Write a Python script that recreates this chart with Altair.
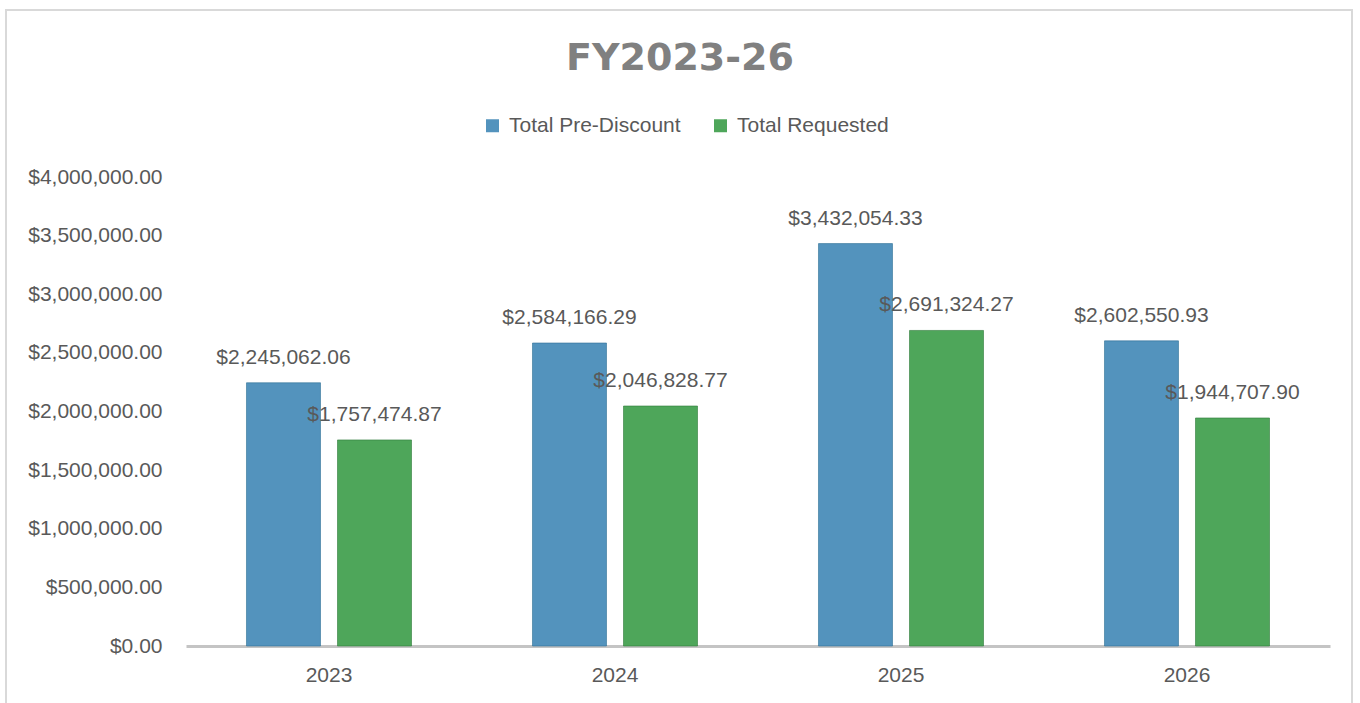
import altair as alt
import pandas as pd

years = ["2023", "2024", "2025", "2026"]
series = ["Total Pre-Discount", "Total Requested"]
pre_discount = [2245062.06, 2584166.29, 3432054.33, 2602550.93]
requested = [1757474.87, 2046828.77, 2691324.27, 1944707.90]
colors = ["#5393bd", "#4ea65a"]
y_ticks = [0, 500000, 1000000, 1500000, 2000000, 2500000, 3000000, 3500000, 4000000]

rows = []
for i, y in enumerate(years):
    rows.append({"year": y, "series": series[0], "value": pre_discount[i]})
    rows.append({"year": y, "series": series[1], "value": requested[i]})
df = pd.DataFrame(rows)

FONT = "Liberation Sans"
GREY = "#595959"

x_enc = alt.X("year:N", title=None, sort=years,
              scale=alt.Scale(paddingInner=0.423, paddingOuter=0.2115),
              axis=alt.Axis(labelAngle=0, ticks=False, domainColor="#c4c4c4",
                            domainWidth=3, labelPadding=18, labelFontSize=21,
                            labelColor=GREY, labelFont=FONT))
xoff = alt.XOffset("series:N", sort=series,
                   scale=alt.Scale(paddingInner=0.187, paddingOuter=0))
y_enc = alt.Y("value:Q", title=None,
              scale=alt.Scale(domain=[0, 4000000]),
              axis=alt.Axis(values=y_ticks, format="$,.2f", ticks=False, domain=False,
                            grid=False, labelPadding=24, labelFontSize=21,
                            labelColor=GREY, labelFont=FONT))

bars = alt.Chart(df).mark_bar(strokeWidth=1, strokeOpacity=0.6).encode(
    x=x_enc, xOffset=xoff, y=y_enc,
    color=alt.Color("series:N", sort=series,
                    scale=alt.Scale(domain=series, range=colors),
                    legend=alt.Legend(title=None, orient="none", direction="horizontal",
                                      legendX=296, legendY=-62, symbolType="square",
                                      symbolSize=169, symbolStrokeWidth=0,
                                      labelFontSize=21, labelColor=GREY, labelFont=FONT,
                                      labelLimit=0, labelOffset=6, columnPadding=29)),
    stroke=alt.Stroke("series:N", sort=series,
                      scale=alt.Scale(domain=series, range=["#2f6f96", "#2f7c3a"]),
                      legend=None),
)

labels = alt.Chart(df).mark_text(baseline="middle", dy=-25, fontSize=21,
                                 color=GREY, font=FONT).encode(
    x=alt.X("year:N", sort=years), xOffset=alt.XOffset("series:N", sort=series),
    y="value:Q",
    text=alt.Text("value:Q", format="$,.2f"),
)

border = alt.Chart(df).mark_rect(fill=None, stroke="#d9d9d9", strokeWidth=2).encode(
    x=alt.value(-180), x2=alt.value(1166), y=alt.value(-167), y2=alt.value(540)
)

chart = alt.layer(border, bars, labels).properties(
    width=1144, height=469,
    background="white",
    title=alt.TitleParams("FY2023-26", font="DejaVu Sans", fontSize=38, fontWeight="bold",
                          color="#808080", anchor="middle", frame="group", dx=-78, dy=73),
    autosize=alt.AutoSizeParams(type="none"),
    padding={"left": 186, "top": 177, "right": 30, "bottom": 57},
).configure_view(strokeWidth=0, stroke="transparent")

chart.save("out.html", embed_options={"renderer": "svg", "actions": False})
